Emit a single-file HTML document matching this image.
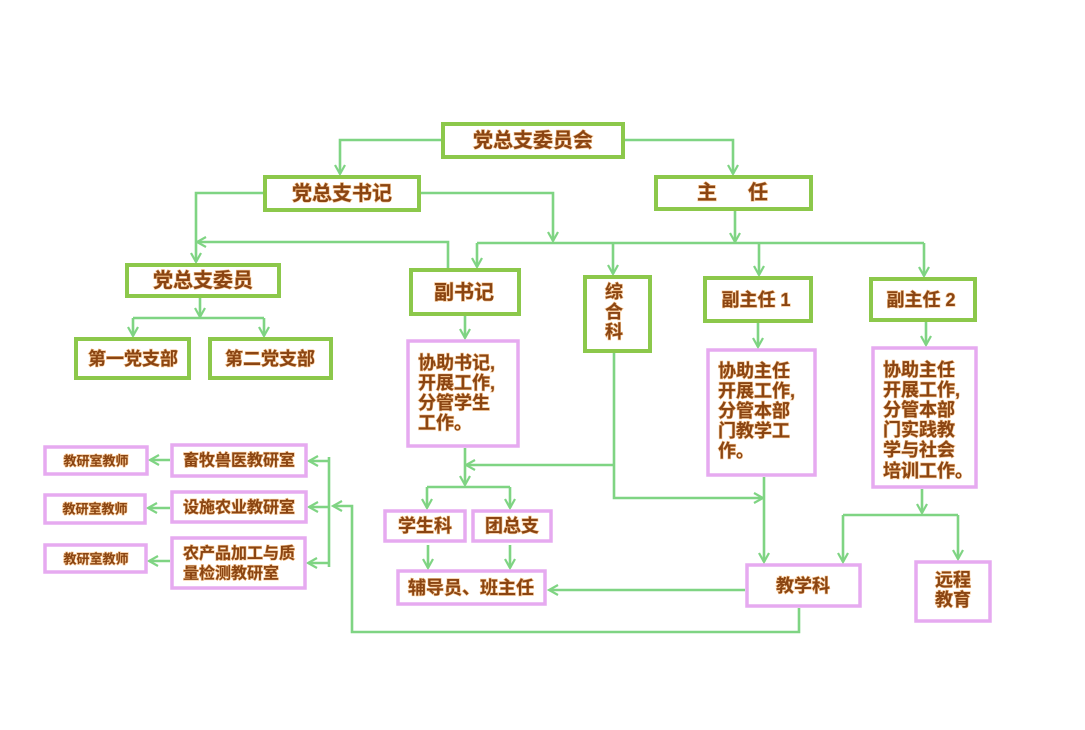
<!DOCTYPE html>
<html><head><meta charset="utf-8"><style>
html,body{margin:0;padding:0;background:#fff;width:1085px;height:730px;overflow:hidden}
svg{display:block}
text{font-family:"Liberation Sans","Noto Sans CJK SC",sans-serif;font-weight:bold;fill:#8a4513;stroke:#f3c08a;stroke-width:1.2px;paint-order:stroke;dominant-baseline:central}
.g{fill:#fff;stroke:#8cc84b;stroke-width:4}
.p{fill:#fff;stroke:#e6aaf0;stroke-width:3.5}
.l{fill:none;stroke:#7fd483;stroke-width:2.6}
</style></head><body>
<svg width="1085" height="730" viewBox="0 0 1085 730" xmlns="http://www.w3.org/2000/svg">
<defs>
<marker id="a" markerUnits="userSpaceOnUse" markerWidth="14" markerHeight="14" viewBox="0 0 14 14" refX="12" refY="7" orient="auto">
<path d="M3,2 L12,7 L3,12" fill="none" stroke="#7fd483" stroke-width="2.2"/>
</marker>
</defs>

<!-- connectors -->
<path class="l" d="M441,140 H340 V174" marker-end="url(#a)"/>
<path class="l" d="M625,140 H733 V174" marker-end="url(#a)"/>
<path class="l" d="M263,193 H196 V262" marker-end="url(#a)"/>
<path class="l" d="M421,193 H553 V241" marker-end="url(#a)"/>
<path class="l" d="M448,268 V242 H197" marker-end="url(#a)"/>
<path class="l" d="M735,211 V242" marker-end="url(#a)"/>
<path class="l" d="M477,243 H924"/>
<path class="l" d="M477,243 V267" marker-end="url(#a)"/>
<path class="l" d="M613,243 V274" marker-end="url(#a)"/>
<path class="l" d="M759,243 V275" marker-end="url(#a)"/>
<path class="l" d="M924,243 V276" marker-end="url(#a)"/>
<path class="l" d="M200,298 V317" marker-end="url(#a)"/>
<path class="l" d="M133,318 H264"/>
<path class="l" d="M133,318 V336" marker-end="url(#a)"/>
<path class="l" d="M264,318 V336" marker-end="url(#a)"/>
<path class="l" d="M465,316 V338" marker-end="url(#a)"/>
<path class="l" d="M758,323 V347" marker-end="url(#a)"/>
<path class="l" d="M926,322 V345" marker-end="url(#a)"/>
<path class="l" d="M465,448 V485" marker-end="url(#a)"/>
<path class="l" d="M614,353 V498 H763" marker-end="url(#a)"/>
<path class="l" d="M614,465 H466" marker-end="url(#a)"/>
<path class="l" d="M427,487 H510"/>
<path class="l" d="M427,487 V508" marker-end="url(#a)"/>
<path class="l" d="M510,487 V508" marker-end="url(#a)"/>
<path class="l" d="M428,545 V568" marker-end="url(#a)"/>
<path class="l" d="M510,545 V568" marker-end="url(#a)"/>
<path class="l" d="M764,477 V562" marker-end="url(#a)"/>
<path class="l" d="M922,489 V513" marker-end="url(#a)"/>
<path class="l" d="M843,515 H958"/>
<path class="l" d="M843,515 V562" marker-end="url(#a)"/>
<path class="l" d="M958,515 V559" marker-end="url(#a)"/>
<path class="l" d="M745,590 H549" marker-end="url(#a)"/>
<path class="l" d="M799,608 V632 H352 V506 H333" marker-end="url(#a)"/>
<path class="l" d="M329,457 V567"/>
<path class="l" d="M329,461 H309" marker-end="url(#a)"/>
<path class="l" d="M329,507 H309" marker-end="url(#a)"/>
<path class="l" d="M329,563 H308" marker-end="url(#a)"/>
<path class="l" d="M170,460 H150" marker-end="url(#a)"/>
<path class="l" d="M170,508 H148" marker-end="url(#a)"/>
<path class="l" d="M170,561 H149" marker-end="url(#a)"/>

<!-- green boxes -->
<rect class="g" x="443" y="124" width="180" height="33"/>
<rect class="g" x="265" y="177" width="154" height="33"/>
<rect class="g" x="656" y="177" width="155" height="32"/>
<rect class="g" x="127" y="265" width="152" height="31"/>
<rect class="g" x="76" y="339" width="113" height="39"/>
<rect class="g" x="210" y="339" width="121" height="39"/>
<rect class="g" x="411" y="270" width="108" height="44"/>
<rect class="g" x="585" y="277" width="65" height="74"/>
<rect class="g" x="705" y="278" width="106" height="43"/>
<rect class="g" x="871" y="279" width="104" height="41"/>

<!-- pink boxes -->
<rect class="p" x="408" y="341" width="110" height="105"/>
<rect class="p" x="708" y="350" width="107" height="125"/>
<rect class="p" x="873" y="348" width="103" height="139"/>
<rect class="p" x="385" y="511" width="80" height="30"/>
<rect class="p" x="473" y="511" width="78" height="30"/>
<rect class="p" x="398" y="571" width="147" height="33"/>
<rect class="p" x="747" y="565" width="113" height="41"/>
<rect class="p" x="916" y="562" width="74" height="59"/>
<rect class="p" x="45" y="447" width="102" height="27"/>
<rect class="p" x="172" y="445" width="134" height="31"/>
<rect class="p" x="45" y="495" width="100" height="28"/>
<rect class="p" x="172" y="492" width="134" height="30"/>
<rect class="p" x="45" y="545" width="101" height="27"/>
<rect class="p" x="172" y="538" width="133" height="50"/>

<!-- texts -->
<text x="533" y="141" font-size="20" text-anchor="middle">党总支委员会</text>
<text x="342" y="194" font-size="20" text-anchor="middle">党总支书记</text>
<text x="707" y="193" font-size="20" text-anchor="middle">主</text>
<text x="758" y="193" font-size="20" text-anchor="middle">任</text>
<text x="203" y="281" font-size="20" text-anchor="middle">党总支委员</text>
<text x="133" y="359" font-size="18" text-anchor="middle">第一党支部</text>
<text x="270" y="359" font-size="18" text-anchor="middle">第二党支部</text>
<text x="464" y="293" font-size="20" text-anchor="middle">副书记</text>
<text x="614" y="292" font-size="18" text-anchor="middle">综</text>
<text x="614" y="312" font-size="18" text-anchor="middle">合</text>
<text x="614" y="332" font-size="18" text-anchor="middle">科</text>
<text x="756" y="300" font-size="18" text-anchor="middle">副主任 1</text>
<text x="921" y="300" font-size="18" text-anchor="middle">副主任 2</text>

<text x="418" y="363" font-size="18">协助书记,</text>
<text x="418" y="383" font-size="18">开展工作,</text>
<text x="418" y="403" font-size="18">分管学生</text>
<text x="418" y="423" font-size="18">工作。</text>

<text x="718" y="371" font-size="18">协助主任</text>
<text x="718" y="391" font-size="18">开展工作,</text>
<text x="718" y="411" font-size="18">分管本部</text>
<text x="718" y="431" font-size="18">门教学工</text>
<text x="718" y="451" font-size="18">作。</text>

<text x="883" y="370" font-size="18">协助主任</text>
<text x="883" y="390" font-size="18">开展工作,</text>
<text x="883" y="410" font-size="18">分管本部</text>
<text x="883" y="430" font-size="18">门实践教</text>
<text x="883" y="450" font-size="18">学与社会</text>
<text x="883" y="471" font-size="18">培训工作。</text>

<text x="425" y="526" font-size="18" text-anchor="middle">学生科</text>
<text x="512" y="526" font-size="18" text-anchor="middle">团总支</text>
<text x="471" y="588" font-size="18" text-anchor="middle">辅导员、班主任</text>
<text x="803" y="586" font-size="18" text-anchor="middle">教学科</text>
<text x="953" y="580" font-size="18" text-anchor="middle">远程</text>
<text x="953" y="600" font-size="18" text-anchor="middle">教育</text>

<text x="96" y="461" font-size="13" text-anchor="middle">教研室教师</text>
<text x="95" y="509" font-size="13" text-anchor="middle">教研室教师</text>
<text x="96" y="559" font-size="13" text-anchor="middle">教研室教师</text>
<text x="239" y="461" font-size="16" text-anchor="middle">畜牧兽医教研室</text>
<text x="239" y="508" font-size="16" text-anchor="middle">设施农业教研室</text>
<text x="183" y="554" font-size="16">农产品加工与质</text>
<text x="183" y="574" font-size="16">量检测教研室</text>
</svg>
</body></html>
